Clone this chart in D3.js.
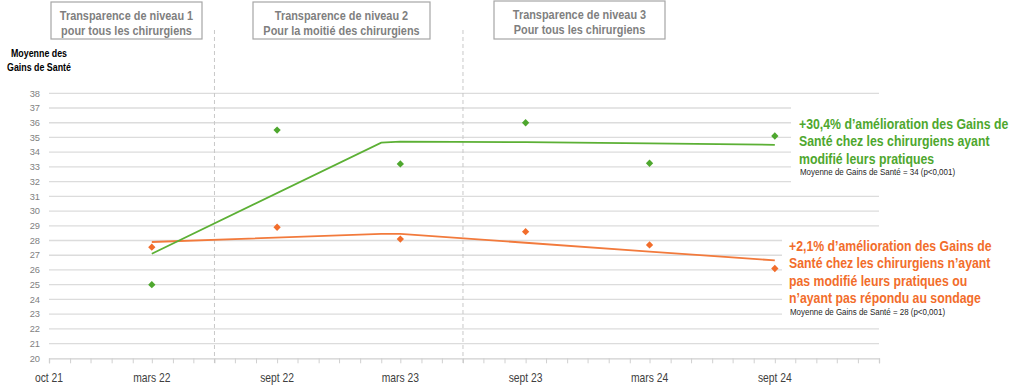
<!DOCTYPE html>
<html><head><meta charset="utf-8">
<script src="https://cdn.jsdelivr.net/npm/d3@7"></script>
<style>
html,body{margin:0;padding:0;background:#fff;}
svg{display:block;}
</style></head>
<body>
<svg id="chart" width="1023" height="391"></svg>
<script>
// ---- data ----
const obsDates = ["2022-03-01","2022-09-01","2023-03-01","2023-09-01","2024-03-01","2024-09-01"];
const greenObs = [25.0, 35.5, 33.2, 36.0, 33.25, 35.1];
const orangeObs = [27.55, 28.9, 28.1, 28.6, 27.7, 26.1];
const fitDates = ["2022-03-01","2023-02-01","2023-03-01","2023-09-01","2024-03-01","2024-09-01"];
const greenFit = [27.1, 34.65, 34.72, 34.68, 34.6, 34.5];
const orangeFit = [27.9, 28.45, 28.45, 27.85, 27.25, 26.65];
const tickDates = ["2021-10-01","2022-03-01","2022-09-01","2023-03-01","2023-09-01","2024-03-01","2024-09-01"];
const tickLabels = ["oct 21","mars 22","sept 22","mars 23","sept 23","mars 24","sept 24"];
const phaseDates = ["2022-06-01","2023-06-01"];
const phaseBoxes = [["Transparence de niveau 1","pour tous les chirurgiens"],["Transparence de niveau 2","Pour la moitié des chirurgiens"],["Transparence de niveau 3","Pour tous les chirurgiens"]];
const greenNote = ["+30,4% d’amélioration des Gains de","Santé chez les chirurgiens ayant","modifié leurs pratiques"];
const greenSub = "Moyenne de Gains de Santé = 34 (p<0,001)";
const orangeNote = ["+2,1% d’amélioration des Gains de","Santé chez les chirurgiens n’ayant","pas modifié leurs pratiques ou","n’ayant pas répondu au sondage"];
const orangeSub = "Moyenne de Gains de Santé = 28 (p<0,001)";
const yTicks = d3.range(20, 39, 1);

// ---- setup ----
const P = d3.utcParse("%Y-%m-%d");
const GREEN = "#4ea72e", GREEN_LINE = "#5cb035", ORANGE = "#f26d2b", ORANGE_LINE = "#f27a3c";
const FONT = "'Liberation Sans', Arial, sans-serif";
const NX = 0.82; // horizontal condensation (Arial Narrow look)
const svg = d3.select("#chart");
const x = d3.scaleUtc().domain([P("2021-10-01"), P("2025-02-01")]).range([49, 879]);
const y = d3.scaleLinear().domain([20, 38]).range([358.3, 93.3]);

function ntext(parent, tx, ty, str, size, opts={}){
  return parent.append("text")
    .attr("transform", `translate(${tx},${ty}) scale(${NX},1)`)
    .attr("font-family", FONT).attr("font-size", size)
    .attr("font-weight", opts.bold ? "bold" : "normal")
    .attr("text-anchor", opts.anchor || "start")
    .attr("fill", opts.fill || "#000").text(str);
}

// gridlines
svg.append("g").selectAll("line").data(yTicks.filter(d=>d>20)).join("line")
  .attr("x1", 49).attr("x2", 879).attr("y1", d=>y(d)).attr("y2", d=>y(d))
  .attr("stroke", "#dcdcdc").attr("stroke-width", 1.3);

// y labels
svg.append("g").selectAll("text").data(yTicks).join("text")
  .attr("x", 40).attr("y", d=>y(d)).attr("dy", "0.35em").attr("text-anchor","end")
  .attr("font-family", FONT).attr("font-size", 9.3).attr("fill","#7f7f7f")
  .text(d=>d);

// y title
ntext(svg, 39, 57, "Moyenne des", 10.8, {bold:true, anchor:"middle"});
ntext(svg, 39, 71, "Gains de Santé", 10.8, {bold:true, anchor:"middle"});

// x axis
const xAxis = d3.axisBottom(x).ticks(d3.utcMonth.every(1)).tickSize(5).tickFormat("");
const gx = svg.append("g").attr("transform","translate(0,358.3)").call(xAxis);
gx.select(".domain").attr("stroke","#d0d0d0").attr("stroke-width",1.3);
gx.selectAll(".tick line").attr("stroke","#d0d0d0");
const gxl = svg.append("g");
tickDates.forEach((d,i)=> ntext(gxl, x(P(d)), 382, tickLabels[i], 12.6, {anchor:"middle", fill:"#404040"}));

// phase separators
svg.append("g").selectAll("line").data(phaseDates).join("line")
  .attr("x1", d=>x(P(d))).attr("x2", d=>x(P(d))).attr("y1", 30).attr("y2", 364)
  .attr("stroke","#c8c8c8").attr("stroke-width",1).attr("stroke-dasharray","4,3");

// phase boxes
const boxGeom = [[51,2,151,37],[253,2,177,37],[494,1,171,38]];
phaseBoxes.forEach((lines,i)=>{
  const [bx,by,bw,bh] = boxGeom[i];
  svg.append("rect").attr("x",bx).attr("y",by).attr("width",bw).attr("height",bh)
    .attr("fill","#fff").attr("stroke","#a6a6a6").attr("stroke-width",1.2);
  lines.forEach((t,j)=> ntext(svg, bx+bw/2, by+18+j*15, t, 13.3, {bold:true, anchor:"middle", fill:"#7f7f7f"}));
});

// trend lines
const line = d3.line().x(d=>x(P(d[0]))).y(d=>y(d[1]));
svg.append("path").datum(fitDates.map((d,i)=>[d,orangeFit[i]])).attr("d",line)
  .attr("fill","none").attr("stroke",ORANGE_LINE).attr("stroke-width",1.8);
svg.append("path").datum(fitDates.map((d,i)=>[d,greenFit[i]])).attr("d",line)
  .attr("fill","none").attr("stroke",GREEN_LINE).attr("stroke-width",1.8);

// points
const diamond = d3.symbol().type(d3.symbolDiamond2).size(34);
function pts(vals, col){
  svg.append("g").selectAll("path").data(obsDates.map((d,i)=>[d,vals[i]])).join("path")
    .attr("d", diamond).attr("transform", d=>`translate(${x(P(d[0]))},${y(d[1])})`)
    .attr("fill", col);
}
pts(greenObs, GREEN);
pts(orangeObs, ORANGE);

// annotations
function note(bx, by, bh, tx, base, lines, sub, col){
  svg.append("rect").attr("x",bx).attr("y",by).attr("width",1023-bx).attr("height",bh).attr("fill","#fff");
  lines.forEach((t,i)=> ntext(svg, tx, base+i*17.5, t, 15, {bold:true, fill:col}));
  ntext(svg, tx+1, base+(lines.length-1)*17.5+11.5, sub, 9.7, {fill:"#262626"});
}
note(791, 100, 86, 799, 128.5, greenNote, greenSub, GREEN);
note(782, 233, 86, 789, 250.5, orangeNote, orangeSub, ORANGE);
</script>
</body></html>
